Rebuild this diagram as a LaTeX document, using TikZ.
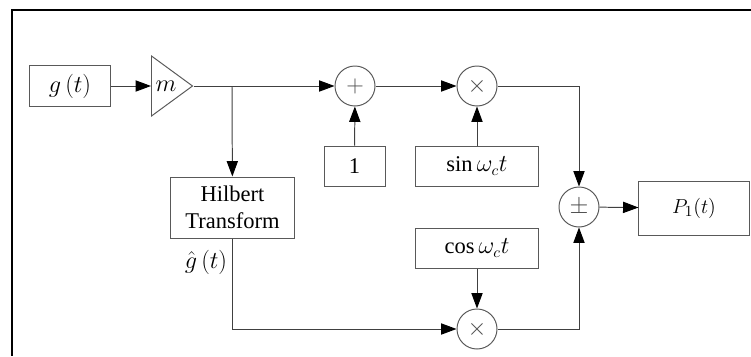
\documentclass[tikz,border=0pt]{standalone}
\usepackage{fontspec}
\setmainfont{Liberation Serif}
\usetikzlibrary{arrows.meta,shapes.geometric}

\begin{document}
\begin{tikzpicture}[x=0.025cm,y=-0.025cm,
    font=\fontsize{16}{19}\selectfont,
    blk/.style={draw=black!65,line width=0.7pt,rectangle,inner sep=0pt},
    sumnode/.style={draw=black!65,line width=0.7pt,circle,minimum size=1cm,inner sep=0pt,text=black!70},
    line/.style={draw=black!75,line width=0.7pt},
    arr/.style={line,-{Triangle[length=11pt,width=8pt,black]}}]
      \useasboundingbox (0,0) rectangle (751,356);
      % frame
      \draw[line width=1.4pt] (751,10)--(12,10)--(12,356);

      % blocks
      \node[blk,minimum width=2.025cm,minimum height=1.025cm] (g) at (70,86) {$g\left(t\right)$};
      \node[draw=black!65,line width=0.7pt,isosceles triangle,isosceles triangle stretches,
            minimum width=1.5cm,minimum height=1.025cm,inner sep=0pt,anchor=west] (amp) at (151,86) {};
      \node (m) at (166,86) {$m$};
      \coordinate (br) at (232,86);
      \node[sumnode] (sum) at (355,86) {$+$};
      \node[blk,minimum width=1.525cm,minimum height=1cm] (one) at (354.5,166) {1};
      \node[sumnode] (mulA) at (477,86) {$\times$};
      \node[blk,minimum width=3.05cm,minimum height=1cm] (sin) at (477,166) {$\sin\omega_c t$};
      \node[sumnode] (pm) at (579,207) {$\pm$};
      \node[blk,minimum width=2.75cm,minimum height=1.35cm,font=\fontsize{15}{18}\selectfont] (P) at (694,208) {$P_1(t)$};
      \node[blk,minimum width=3.05cm,minimum height=1cm] (cos) at (477,248) {$\cos\omega_c t$};
      \node[sumnode] (mulB) at (477,329) {$\times$};
      \node[blk,minimum width=3.075cm,minimum height=1.525cm,align=center] (hil) at (232.5,207.5) {Hilbert\\Transform};
      \node[inner sep=1pt] (gh) at (206,262) {$\hat{g}\left(t\right)$};

      % connectors
      \draw[arr] (g) -- (amp.west);
      \draw[arr] (amp.apex) -- (sum);
      \draw[arr] (br) -- (hil);
      \draw[arr] (one) -- (sum);
      \draw[arr] (sum) -- (mulA);
      \draw[arr] (sin) -- (mulA);
      \draw[arr] (mulA) -| (pm);
      \draw[arr] (cos) -- (mulB);
      \draw[arr] (hil.south) |- (mulB);
      \draw[arr] (mulB) -| (pm);
      \draw[arr] (pm) -- (P);
\end{tikzpicture}
\end{document}
